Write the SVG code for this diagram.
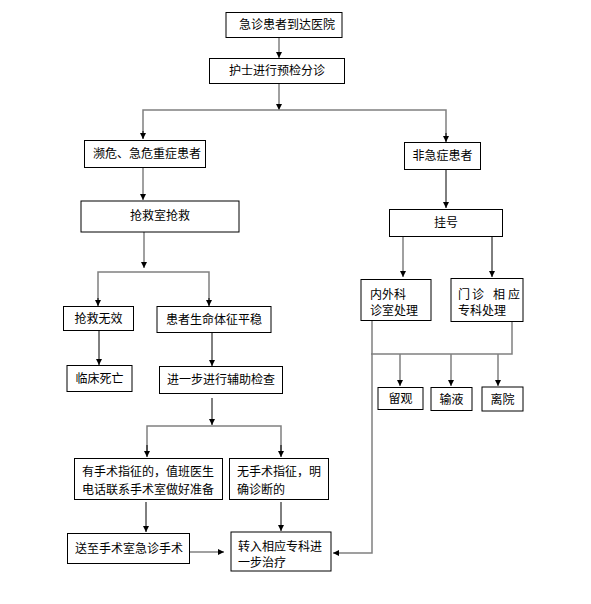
<svg xmlns="http://www.w3.org/2000/svg" width="591" height="604" viewBox="0 0 591 604">
<defs>
<style>
.box{fill:#fff;stroke:#000;stroke-width:1}
.t{font-family:"Noto Sans CJK SC","Noto Sans",sans-serif;font-size:12px;fill:#000}
.g{stroke:#808080;stroke-width:1.5;fill:none}
.k{stroke:#000;stroke-width:1;fill:none}
</style>
<marker id="ah" markerUnits="userSpaceOnUse" markerWidth="8" markerHeight="8" viewBox="0 0 8 8" refX="7" refY="4" orient="auto">
<path d="M1,1 L7,4 L1,7 Z" fill="#000"/>
</marker>
</defs>
<rect width="591" height="604" fill="#fff"/>
<g id="connectors">
<line class="g" x1="279" y1="37" x2="279" y2="58" marker-end="url(#ah)"/>
<line class="g" x1="279" y1="83" x2="279" y2="110" marker-end="url(#ah)"/>
<polyline class="g" points="143,138 143,110 446,110 446,141" />
<line class="k" x1="143" y1="131" x2="143" y2="139" marker-end="url(#ah)"/>
<line class="k" x1="446" y1="133" x2="446" y2="142" marker-end="url(#ah)"/>
<line class="g" x1="143" y1="168" x2="143" y2="200" marker-end="url(#ah)"/>
<line class="k" x1="446" y1="170" x2="446" y2="208" marker-end="url(#ah)"/>
<line class="g" x1="144" y1="232" x2="144" y2="268" marker-end="url(#ah)"/>
<polyline class="g" points="98,305 98,272 209,272 209,305"/>
<line class="k" x1="98" y1="298" x2="98" y2="306" marker-end="url(#ah)"/>
<line class="k" x1="209" y1="298" x2="209" y2="306" marker-end="url(#ah)"/>
<line class="k" x1="99" y1="331" x2="99" y2="365" marker-end="url(#ah)"/>
<line class="k" x1="212" y1="333" x2="212" y2="366" marker-end="url(#ah)"/>
<line class="k" x1="212" y1="398" x2="212" y2="425" marker-end="url(#ah)"/>
<polyline class="g" points="147,453 147,426 281,426 281,453"/>
<line class="k" x1="147" y1="445" x2="147" y2="457" marker-end="url(#ah)"/>
<line class="k" x1="281" y1="445" x2="281" y2="457" marker-end="url(#ah)"/>
<line class="k" x1="146" y1="502" x2="146" y2="532" marker-end="url(#ah)"/>
<line class="k" x1="281" y1="502" x2="281" y2="531" marker-end="url(#ah)"/>
<line class="g" x1="190" y1="552" x2="224" y2="552" marker-end="url(#ah)"/>
<line class="g" x1="403" y1="237" x2="403" y2="277" marker-end="url(#ah)"/>
<line class="k" x1="492" y1="237" x2="492" y2="277" marker-end="url(#ah)"/>
<polyline class="g" points="512,322 512,354 371,354"/>
<polyline class="g" points="372,321 372,553 333,553" marker-end="url(#ah)"/>
<line class="g" x1="400" y1="354" x2="400" y2="386" marker-end="url(#ah)"/>
<line class="g" x1="451" y1="354" x2="451" y2="386" marker-end="url(#ah)"/>
<line class="g" x1="498" y1="354" x2="498" y2="386" marker-end="url(#ah)"/>
</g>
<g id="n1"><rect class="box" x="226" y="12.5" width="116" height="25"/><text class="t" x="239" y="29">急诊患者到达医院</text></g>
<g id="n2"><rect class="box" x="209.5" y="58.5" width="135" height="25"/><text class="t" x="277" y="75" text-anchor="middle">护士进行预检分诊</text></g>
<g id="n3"><rect class="box" x="84.5" y="140.5" width="121" height="27"/><text class="t" x="93" y="158">濒危、急危重症患者</text></g>
<g id="n4"><rect class="box" x="404.5" y="142.5" width="76" height="27"/><text class="t" x="442.5" y="160" text-anchor="middle">非急症患者</text></g>
<g id="n5"><rect class="box" x="81" y="201" width="158" height="31"/><text class="t" x="160" y="220" text-anchor="middle">抢救室抢救</text></g>
<g id="n6"><rect class="box" x="63.5" y="306.5" width="70" height="24"/><text class="t" x="98.5" y="323" text-anchor="middle">抢救无效</text></g>
<g id="n7"><rect class="box" x="157" y="306.5" width="114" height="26"/><text class="t" x="214" y="324" text-anchor="middle">患者生命体征平稳</text></g>
<g id="n8"><rect class="box" x="67" y="365.5" width="65" height="26"/><text class="t" x="99.5" y="383" text-anchor="middle">临床死亡</text></g>
<g id="n9"><rect class="box" x="159.5" y="366.5" width="123" height="27"/><text class="t" x="221" y="384" text-anchor="middle">进一步进行辅助检查</text></g>
<g id="n10"><rect class="box" x="74.5" y="458.5" width="148" height="41"/><text class="t" x="82" y="476">有手术指征的，值班医生</text><text class="t" x="82" y="494">电话联系手术室做好准备</text></g>
<g id="n11"><rect class="box" x="229.5" y="458.5" width="99" height="41"/><text class="t" x="237" y="476">无手术指征，明</text><text class="t" x="237" y="494">确诊断的</text></g>
<g id="n12"><rect class="box" x="67.5" y="533.5" width="122" height="30"/><text class="t" x="75" y="553">送至手术室急诊手术</text></g>
<g id="n13"><rect class="box" x="231" y="532" width="100" height="39"/><text class="t" x="238" y="551">转入相应专科进</text><text class="t" x="238" y="567">一步治疗</text></g>
<g id="n14"><rect class="box" x="389.5" y="209.5" width="113" height="27"/><text class="t" x="446" y="227" text-anchor="middle">挂号</text></g>
<g id="n15"><rect class="box" x="361" y="279.5" width="70" height="41"/><text class="t" x="370" y="299">内外科</text><text class="t" x="370" y="315">诊室处理</text></g>
<g id="n16"><rect class="box" x="451" y="278.5" width="72" height="43"/><text class="t" x="458 472 493 508" y="299">门诊相应</text><text class="t" x="458" y="315">专科处理</text></g>
<g id="n17"><rect class="box" x="378" y="387.5" width="45" height="22"/><text class="t" x="400.5" y="403" text-anchor="middle">留观</text></g>
<g id="n18"><rect class="box" x="431" y="387.5" width="41" height="23"/><text class="t" x="451.5" y="404" text-anchor="middle">输液</text></g>
<g id="n19"><rect class="box" x="482" y="387" width="41" height="24"/><text class="t" x="502.5" y="404" text-anchor="middle">离院</text></g>
</svg>
